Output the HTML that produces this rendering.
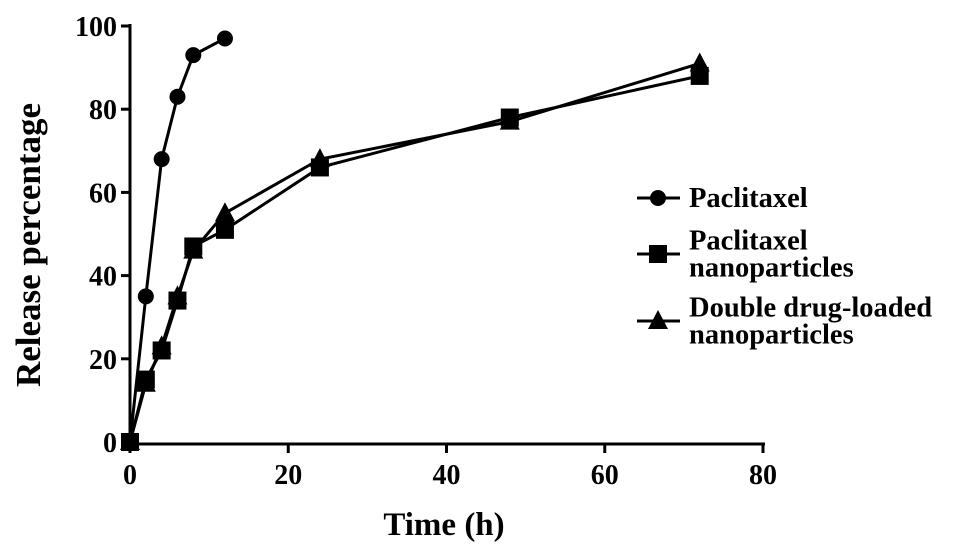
<!DOCTYPE html>
<html><head><meta charset="utf-8"><style>
body{margin:0;background:#fff;width:969px;height:555px;overflow:hidden}
text{font-family:"Liberation Serif",serif;font-weight:bold;fill:#000}
</style></head><body>
<svg width="969" height="555">
<g id="axes"></g>
<g id="series"></g>
<g id="legend"></g>
</svg>
<script>
const xTicks=[0,20,40,60,80];
const yTicks=[0,20,40,60,80,100];
const ptxTime=[0,2,4,6,8,12];
const ptxVals=[0,35,68,83,93,97];
const npTime=[0,2,4,6,8,12,24,48,72];
const npVals=[0,15,22,34,47,51,66,78,88];
const ddTime=[0,2,4,6,8,12,24,48,72];
const ddVals=[0,14,23,35,46,55,68,77,91];
const NS='http://www.w3.org/2000/svg';
const X=v=>130+v*(763-130)/80;
const Y=v=>442-v*4.16;
function mk(tag,attrs,parent,txt){const e=document.createElementNS(NS,tag);for(const k in attrs)e.setAttribute(k,attrs[k]);if(txt!==undefined)e.textContent=txt;parent.appendChild(e);return e;}
const ax=document.getElementById('axes');
let e=mk('line',{x1:130,y1:Y(100)-2,x2:130,y2:445,stroke:'#000','stroke-width':3},ax);

e=mk('line',{x1:128,y1:444,x2:765,y2:444,stroke:'#000','stroke-width':3},ax);

xTicks.forEach(t=>{mk('line',{x1:X(t),y1:444,x2:X(t),y2:453,stroke:'#000','stroke-width':3},ax);
e=mk('text',{x:X(t),y:484,'text-anchor':'middle','font-size':28},ax,t);
});
yTicks.forEach(t=>{mk('line',{x1:121,y1:Y(t),x2:130,y2:Y(t),stroke:'#000','stroke-width':3},ax);
e=mk('text',{x:117,y:Y(t)+10,'text-anchor':'end','font-size':28},ax,t);
});
e=mk('text',{x:444,y:535,'text-anchor':'middle','font-size':33},ax,'Time (h)');

e=mk('text',{x:40,y:245,'text-anchor':'middle','font-size':35,transform:'rotate(-90 40 245)'},ax,'Release percentage');

const sg=document.getElementById('series');
function marker(type,x,y,p){
 if(type==='c')return mk('circle',{cx:x,cy:y,r:8},p);
 if(type==='s')return mk('rect',{x:x-9,y:y-9,width:18,height:18},p);
 return mk('polygon',{points:`${x},${y-11} ${x-10},${y+8} ${x+10},${y+8}`},p);
}
function series(ts,vs,type,name){
 const g=mk('g',{},sg);
 const pts=ts.map((t,i)=>X(t)+','+Y(vs[i])).join(' ');
 mk('polyline',{points:pts,fill:'none',stroke:'#000','stroke-width':3},g);
 ts.forEach((t,i)=>{const m=marker(type,X(t),Y(vs[i]),g);});
}
series(ddTime,ddVals,'t','double-drug-series');
series(npTime,npVals,'s','nanoparticles-series');
series(ptxTime,ptxVals,'c','paclitaxel-series');
const lg=document.getElementById('legend');
function entry(y,type,lines,name){
 const g=mk('g',{},lg);
 mk('line',{x1:637,y1:y,x2:680,y2:y,stroke:'#000','stroke-width':3},g);
 marker(type,658,y,g);
 lines.forEach((l,i)=>mk('text',{x:689,y:y+9+(i-(lines.length-1)/2)*27,'font-size':28.5},g,l));
}
entry(198,'c',['Paclitaxel'],'legend-paclitaxel');
entry(254,'s',['Paclitaxel','nanoparticles'],'legend-nanoparticles');
entry(321,'t',['Double drug-loaded','nanoparticles'],'legend-double-drug');
</script>
</body></html>
